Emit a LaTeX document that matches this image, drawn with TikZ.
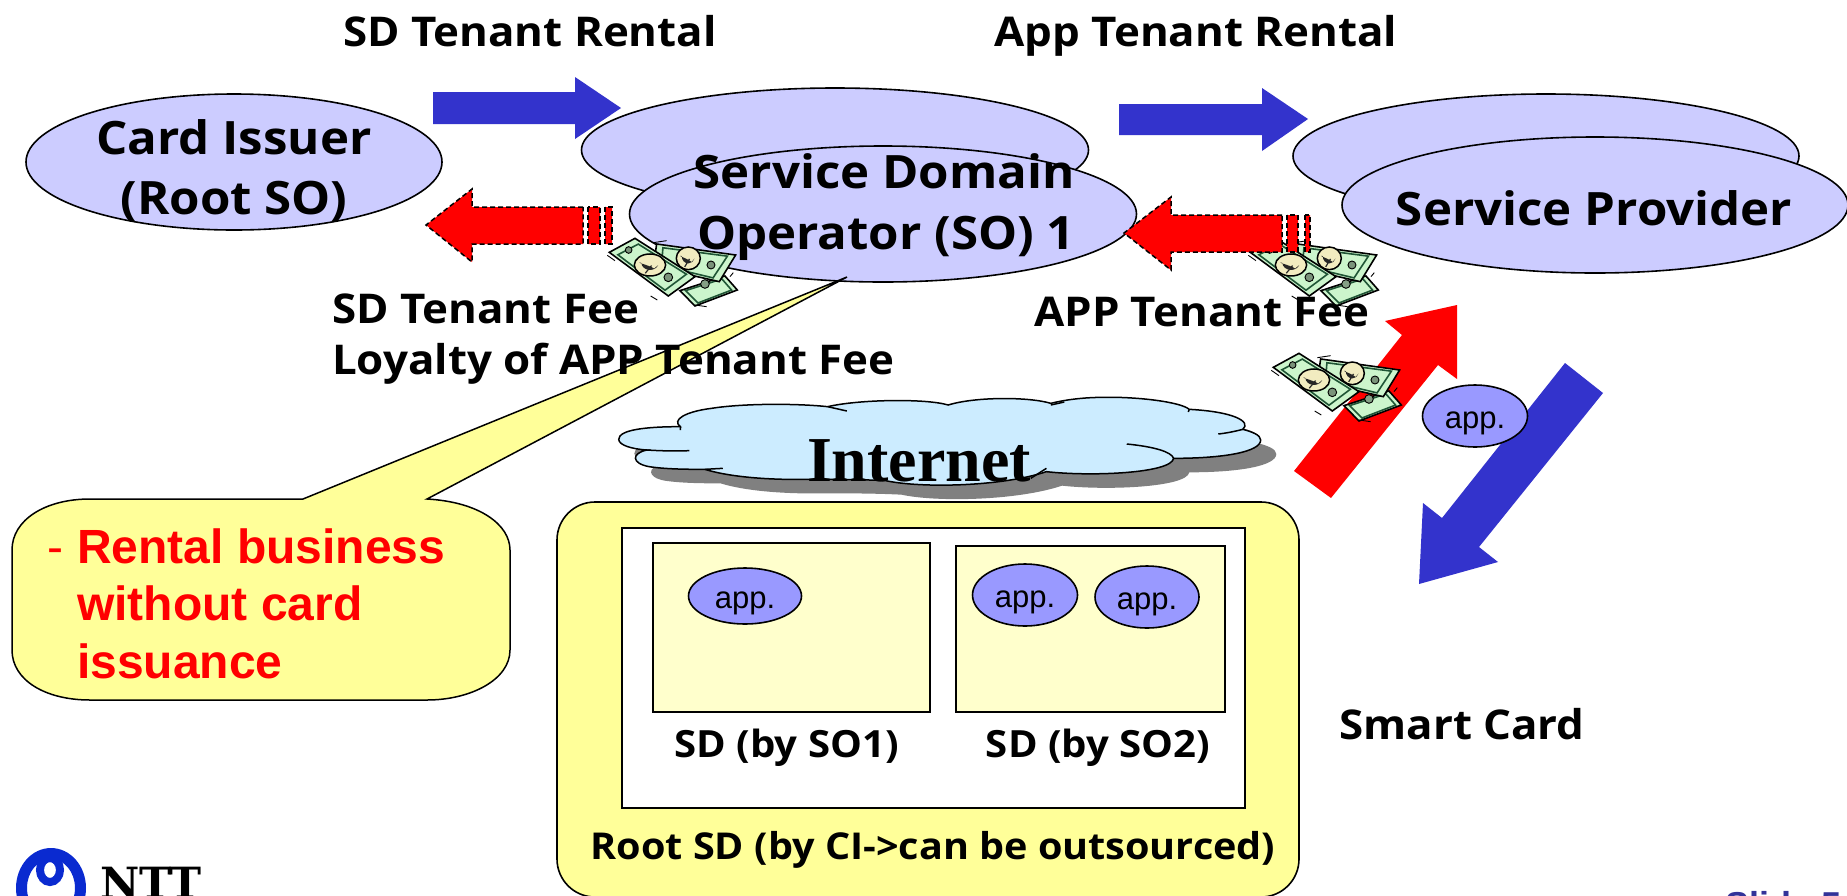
\documentclass[tikz,border=0pt]{standalone}
\usepackage{fontspec}
\setmainfont{Liberation Sans}
\newfontfamily\tah{Open Sans}[FakeStretch=1.07]
\newfontfamily\tms{Liberation Serif}
\newfontfamily\slab{DejaVu Serif}
\usetikzlibrary{shapes.geometric,calc}
\definecolor{lav}{HTML}{CCCCFF}
\definecolor{arrowblue}{HTML}{3333CC}
\definecolor{callout}{HTML}{FFFF99}
\definecolor{pale}{HTML}{FFFFCC}
\definecolor{appc}{HTML}{9999FF}
\definecolor{cloudc}{HTML}{CCECFF}
\definecolor{billc}{HTML}{CCF5CC}
\definecolor{billd}{HTML}{1F5535}
\definecolor{cream}{HTML}{F2ECC0}
\definecolor{slidec}{HTML}{333399}
\definecolor{nttblue}{HTML}{0A2AD0}
\tikzset{
  oval/.style={draw=black,line width=1.6pt,fill=lav,ellipse,inner sep=0pt},
  appoval/.style={draw=black,line width=1.6pt,fill=appc,ellipse,inner sep=0pt},
  apptext/.style={font=\fontsize{31}{36}\selectfont,anchor=base,inner sep=0pt},
  heading/.style={font=\tah\bfseries\fontsize{41}{48}\selectfont,anchor=base,inner sep=0pt},
  big head/.style={font=\tah\bfseries\fontsize{46}{52}\selectfont,anchor=base,inner sep=0pt},
  small head/.style={font=\tah\bfseries\fontsize{37.5}{42}\selectfont,anchor=base,inner sep=0pt},
  root head/.style={font=\tah\bfseries\fontsize{37}{42}\selectfont,anchor=base,inner sep=0pt},
  callout text/.style={font=\bfseries\fontsize{48}{56}\selectfont,text=red,anchor=base west,inner sep=0pt},
  flat arrow/.style={fill=arrowblue,draw=none},
  red arrow/.style={fill=red,draw=none},
  dash edge/.style={draw=black,line width=1.5pt,dash pattern=on 5pt off 3pt},
}
\newcommand\billshape[4]{%
  \fill[billc] (#1) -- (#2) -- (#3) -- (#4) -- cycle;
  \draw[billd,line width=1.6pt] ($(#1)!.1!(#3)$) -- ($(#2)!.1!(#4)$) -- ($(#3)!.1!(#1)$) -- ($(#4)!.1!(#2)$) -- cycle;
  \draw[black,line width=1.6pt] (#1) -- (#2) -- (#3) -- (#4) -- cycle;
}
\newcommand\portrait[4]{%
  \draw[black,line width=1.5pt,fill=cream] (#1,#2) ellipse[x radius=#3,y radius=#4];
  \fill[black!85] (#1,#2) ++(-#3*.55,-#4*.2) arc[start angle=180,end angle=20,x radius=#3*.55,y radius=#4*.65] -- ++(-#3*.25,#4*.3) .. controls +(-#3*.3,-#4*.3) and +(-#3*.5,-#4*.1) .. cycle;
  \draw[black!85,line width=1.2pt] (#1,#2) ++(-#3*.3,#4*.75) -- ++(#3*.4,-#4*.7);
}
\newcommand\moneyat[2]{%
\begin{scope}[shift={(#1,#2)},x=.3333pt,y=-.3333pt]
  \billshape{840,362}{975,318}{1012,360}{885,408}
  \draw[black,line width=.9pt,fill=billc!65!black] (915,342) circle[radius=13];
  \billshape{770,222}{1007,255}{958,335}{760,290}
  \portrait{865}{265}{36}{34}
  \draw[black,line width=.9pt,fill=billc!60!black] (933,285) circle[radius=12];
  \billshape{628,247}{705,205}{885,320}{805,378}
  \portrait{750}{285}{47}{33}
  \draw[black,line width=.9pt,fill=billc!60!black] (805,322) circle[radius=13];
  \draw[black,line width=.9pt,fill=billc!60!black] (686,240) circle[radius=10];
  \draw[black,line width=.9pt] (622,256) -- (645,272) (752,378) -- (772,390) (885,405) -- (920,410) (990,320) -- (1000,308) (760,218) -- (800,212);
\end{scope}}
\newcommand\cloudpath{(180,140) .. controls (100,140) and (42,150) .. (42,178) .. controls (42,195) and (70,207) .. (105,210) .. controls (70,220) and (70,250) .. (110,260) .. controls (150,268) and (200,268) .. (235,268) .. controls (300,295) and (400,300) .. (470,298) .. controls (520,298) and (580,298) .. (640,302) .. controls (720,325) and (900,320) .. (1000,275) .. controls (1100,290) and (1280,280) .. (1285,235) .. controls (1400,235) and (1480,215) .. (1480,180) .. controls (1480,165) and (1460,155) .. (1440,148) .. controls (1460,125) and (1420,95) .. (1320,88) .. controls (1300,65) and (1200,50) .. (1130,52) .. controls (1080,52) and (1040,60) .. (1010,70) .. controls (960,50) and (840,50) .. (780,75) .. controls (730,55) and (580,58) .. (510,80) .. controls (440,70) and (320,70) .. (250,85) .. controls (190,95) and (160,120) .. (180,140) -- cycle}
\begin{document}
\begin{tikzpicture}[x=1pt,y=-1pt]
\useasboundingbox (0,0) rectangle (1847,895);
\clip (0,0) rectangle (1847,895);
\fill[white] (0,0) rectangle (1847,895);

% ellipses
\node[oval,minimum width=416pt,minimum height=136pt] (issuer) at (234,162) {};
\node[oval,minimum width=507pt,minimum height=124pt] (soback) at (835,150) {};
\node[oval,minimum width=507pt,minimum height=136pt] (sofront) at (883,214) {};
\node[oval,minimum width=506pt,minimum height=124pt] (spback) at (1546,156) {};
\node[oval,minimum width=506pt,minimum height=136pt] (spfront) at (1595,205) {};

% top arrows
\path[flat arrow] (433,92) -- (575,92) -- (575,77) -- (621,108) -- (575,139) -- (575,124) -- (433,124) -- cycle;
\path[flat arrow] (1119,104) -- (1262,104) -- (1262,88) -- (1308,119) -- (1262,151) -- (1262,135) -- (1119,135) -- cycle;

% money under arrows
\moneyat{400}{170}
\moneyat{1041}{170}

% dashed red arrows
\path[red arrow] (426,225) -- (472,189) -- (472,207) -- (583,207) -- (583,244) -- (472,244) -- (472,262) -- cycle;
\draw[dash edge] (583,207) -- (472,207) -- (472,189) -- (426,225) -- (472,262) -- (472,244) -- (583,244) -- cycle;
\path[red arrow] (588,207) rectangle (600,244) (605,207) rectangle (612,244);
\draw[dash edge] (588,207) rectangle (600,244) (605,207) rectangle (612,244);
\path[red arrow] (1124,233) -- (1171,197) -- (1171,215) -- (1282,215) -- (1282,252) -- (1171,252) -- (1171,270) -- cycle;
\draw[dash edge] (1282,215) -- (1171,215) -- (1171,197) -- (1124,233) -- (1171,270) -- (1171,252) -- (1282,252) -- cycle;
\path[red arrow] (1287,215) rectangle (1298,252) (1305,215) rectangle (1310,252);
\draw[dash edge] (1287,215) rectangle (1298,252) (1305,215) rectangle (1310,252);

% diagonal arrows
\path[red arrow] (1294,471) -- (1402,335) -- (1385,321) -- (1457,305) -- (1457,379) -- (1438,365) -- (1331,498) -- cycle;
\moneyat{1064}{285}
\path[flat arrow] (1565,363) -- (1603,393) -- (1479,547) -- (1498,562) -- (1419,584) -- (1423,503) -- (1442,518) -- cycle;
\node[appoval,minimum width=105pt,minimum height=62pt] (appfly) at (1475,416) {};
\node[apptext] (appflyt) at (1475,428) {app.};

% callout
\draw[fill=callout,draw=black,line width=1.5pt,line join=miter]
  (303,499) -- (847,277) -- (427,499) .. controls (480,502) and (510,525) .. (510,550) -- (510,650)
  .. controls (510,680) and (470,700) .. (427,700) -- (90,700)
  .. controls (45,700) and (12,680) .. (12,650) -- (12,550)
  .. controls (12,520) and (45,499) .. (90,499) -- cycle;
\node[anchor=base west,inner sep=0pt,font=\fontsize{48}{56}\selectfont,text=red] (dash) at (47,563) {-};
\node[callout text] (c1) at (77,563) {Rental business};
\node[callout text] (c2) at (77,620) {without card};
\node[callout text] (c3) at (77,678) {issuance};

% cloud
\begin{scope}[shift={(600,380)},x=.4464pt,y=-.3333pt]
  \begin{scope}[shift={(35,42)}]
    \fill[black!50] \cloudpath;
  \end{scope}
  \draw[fill=cloudc,draw=black,line width=1.5pt] \cloudpath;
  \draw[black,line width=1.5pt] (180,150) -- (180,140)
    (200,212) .. controls (160,214) and (130,212) .. (105,210)
    (275,265) -- (235,268)
    (510,80) -- (553,93)
    (1010,75) -- (1040,66)
    (1320,88) -- (1318,96)
    (1440,148) .. controls (1420,155) and (1400,160) .. (1385,162)
    (1180,192) .. controls (1240,200) and (1280,215) .. (1285,235)
    (1000,265) -- (965,295);
\end{scope}
\node[anchor=base,inner sep=0pt,font=\tms\bfseries\fontsize{64}{70}\selectfont] (internet) at (919,481) {Internet};

% Root SD
\draw[fill=callout,draw=black,line width=1.6pt,rounded corners=38pt] (557,502) rectangle (1299,897);
\node[draw=black,line width=1.4pt,fill=white,minimum width=623pt,minimum height=280pt,inner sep=0pt] (white) at (933.5,668) {};
\node[draw=black,line width=1.4pt,fill=pale,minimum width=277pt,minimum height=169pt,inner sep=0pt] (sd1) at (791.5,627.5) {};
\node[draw=black,line width=1.4pt,fill=pale,minimum width=269pt,minimum height=166pt,inner sep=0pt] (sd2) at (1090.5,629) {};
\node[appoval,minimum width=113pt,minimum height=56pt] (app1) at (745,596) {};
\node[apptext] (app1t) at (745,608) {app.};
\node[appoval,minimum width=105pt,minimum height=62pt] (app2) at (1025,595) {};
\node[apptext] (app2t) at (1025,607) {app.};
\node[appoval,minimum width=104pt,minimum height=62pt] (app3) at (1147,597) {};
\node[apptext] (app3t) at (1147,609) {app.};
\node[small head] (sdo1) at (786.5,757) {SD (by SO1)};
\node[small head] (sdo2) at (1098,757) {SD (by SO2)};
\node[root head] (root) at (933,859) {Root SD (by CI->can be outsourced)};

% labels
\node[heading] (t1) at (530,46) {SD Tenant Rental};
\node[heading] (t2) at (1196,46) {App Tenant Rental};
\node[big head] (t3) at (234,154) {Card Issuer};
\node[big head] (t4) at (234,214) {(Root SO)};
\node[big head] (t5) at (884,188) {Service Domain};
\node[big head] (t6) at (886,249) {Operator (SO) 1};
\node[big head] (t7) at (1594,225) {Service Provider};
\node[heading,anchor=base west] (t8) at (332,323) {SD Tenant Fee};
\node[heading,anchor=base west] (t9) at (332,374) {Loyalty of APP Tenant Fee};
\node[heading] (t10) at (1202,326) {APP Tenant Fee};
\node[heading] (t11) at (1462,739) {Smart Card};

% footer
\fill[nttblue,even odd rule] (51,888) ellipse[x radius=35,y radius=40] (51,888) ellipse[x radius=24,y radius=29];
\draw[nttblue,line width=8pt] (50,870) ellipse[x radius=10,y radius=12];
\node[anchor=base west,inner sep=0pt,font=\slab\bfseries\fontsize{43}{48}\selectfont] (ntt) at (100,898) {NTT};
\node[anchor=base west,inner sep=0pt,font=\bfseries\fontsize{36}{40}\selectfont,text=slidec] (slide) at (1725,917) {Slide 5};
\end{tikzpicture}
\end{document}
